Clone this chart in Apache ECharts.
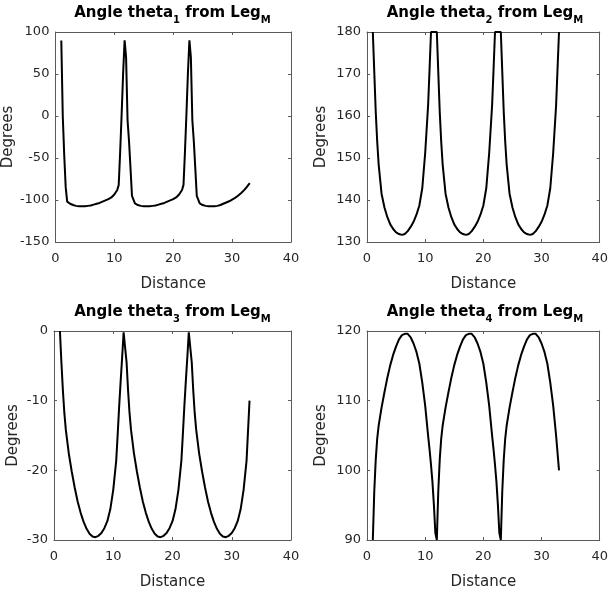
<!DOCTYPE html>
<html>
<head>
<meta charset="utf-8">
<script src="https://cdn.jsdelivr.net/npm/echarts@6.0.0/dist/echarts.min.js"></script>
<style>
html, body { margin: 0; padding: 0; background: #fff; }
#main { width: 611px; height: 597px; }
</style>
</head>
<body>
<div id="main"></div>
<script>
// distance samples (shared by all four panels), one line per stride
const distance = [
    1, 1.25, 1.5, 1.75, 2, 2.5, 3, 3.5, 4, 4.5, 5, 5.5, 6, 6.5, 7, 7.5, 8, 8.5, 9, 9.5, 10, 10.5, 10.75, 11, 11.25, 11.5, 11.75,
    12, 12.25, 12.5, 12.75, 13, 13.5, 14, 14.5, 15, 15.5, 16, 16.5, 17, 17.5, 18, 18.5, 19, 19.5, 20, 20.5, 21, 21.5, 21.75, 22, 22.25, 22.5, 22.75,
    23, 23.25, 23.5, 23.75, 24, 24.5, 25, 25.5, 26, 26.5, 27, 27.5, 28, 28.5, 29, 29.5, 30, 30.5, 31, 31.5, 32, 32.5, 33
];
const theta1 = [
    90, 0, -47, -85, -102, -104.5, -106, -107, -107.5, -107.5, -107.5, -107, -106.5, -105.5, -104.5, -103.5, -102, -100.5, -99, -97, -93.5, -88, -82, -42, 3, 51, 90,
    70, -5, -30, -62, -95, -104, -106, -107, -107.5, -107.5, -107.5, -107, -106.5, -105.5, -104.5, -103.5, -102, -100.5, -99, -97, -93.5, -88, -82, -42, 3, 51, 90,
    70, -5, -30, -62, -95, -104, -106, -107, -107.5, -107.5, -107.5, -107, -106, -104.5, -103, -101.5, -99.5, -97.5, -95, -92, -88.5, -84.5, -80
];
const theta2 = [
    180, 170.5, 161, 154, 148.5, 141.5, 138.2, 135.9, 134.2, 133.1, 132.3, 131.9, 131.7, 131.9, 132.6, 133.6, 134.8, 136.5, 138.7, 142.8, 151.2, 162.5, 171, 180, 180, 180, 180,
    180, 170.5, 161, 154, 148.5, 141.5, 138.2, 135.9, 134.2, 133.1, 132.3, 131.9, 131.7, 131.9, 132.6, 133.6, 134.8, 136.5, 138.7, 142.8, 151.2, 162.5, 171, 180, 180, 180, 180,
    180, 170.5, 161, 154, 148.5, 141.5, 138.2, 135.9, 134.2, 133.1, 132.3, 131.9, 131.7, 131.9, 132.6, 133.6, 134.8, 136.5, 138.7, 142.8, 151.2, 162.5, 180
];
const theta3 = [
    0, -4.5, -8.5, -11.8, -14.2, -17.6, -20.2, -22.5, -24.5, -26.1, -27.4, -28.4, -29.1, -29.5, -29.6, -29.4, -29, -28.3, -27.3, -25.6, -22.8, -18.6, -14.8, -10.8, -7.2, -3.8, -0.2,
    -0.4, -4.5, -8.5, -11.8, -14.2, -17.6, -20.2, -22.5, -24.5, -26.1, -27.4, -28.4, -29.1, -29.5, -29.6, -29.4, -29, -28.3, -27.3, -25.6, -22.8, -18.6, -14.8, -10.8, -7.2, -3.8, -0.2,
    -0.4, -4.5, -8.5, -11.8, -14.2, -17.6, -20.2, -22.5, -24.5, -26.1, -27.4, -28.4, -29.1, -29.5, -29.6, -29.4, -29, -28.3, -27.3, -25.6, -22.8, -18.6, -10
];
const theta4 = [
    90, 97, 101.5, 104.5, 106.4, 109, 111.2, 113.3, 115.1, 116.6, 117.8, 118.8, 119.4, 119.6, 119.6, 119.1, 118.2, 117, 115.3, 112.6, 109.3, 105, 103, 100.8, 98.3, 95, 91,
    90, 97, 101.5, 104.5, 106.4, 109, 111.2, 113.3, 115.1, 116.6, 117.8, 118.8, 119.4, 119.6, 119.6, 119.1, 118.2, 117, 115.3, 112.6, 109.3, 105, 103, 100.8, 98.3, 95, 91,
    90, 97, 101.5, 104.5, 106.4, 109, 111.2, 113.3, 115.1, 116.6, 117.8, 118.8, 119.4, 119.6, 119.6, 119.1, 118.2, 117, 115.3, 112.6, 109.3, 105, 100
];

// axis ranges [min, max, interval]
const xRange = [0, 40, 10];
const yRanges = [[-150, 100, 50], [130, 180, 10], [-30, 0, 10], [90, 120, 10]];
const subscripts = ['1', '2', '3', '4'];
const allTheta = [theta1, theta2, theta3, theta4];

const font = 'DejaVu Sans';
const axisColor = '#5a5a5a';
const textColor = '#262626';

// panel boxes in pixels
const boxes = [
    { left: 54, top: 32, width: 237, height: 210, nameGap: 33 },
    { left: 367, top: 32, width: 236, height: 210, nameGap: 38 },
    { left: 54, top: 331, width: 237, height: 209, nameGap: 33 },
    { left: 367, top: 331, width: 236, height: 209, nameGap: 38 }
];

function axisBase(show) {
    return {
        axisLine: { show: true, onZero: false, lineStyle: { color: axisColor, width: 1 } },
        axisTick: { show: true, inside: true, length: 3, lineStyle: { color: axisColor } },
        axisLabel: { show: show, fontFamily: font, fontSize: 13, color: textColor },
        splitLine: { show: false }
    };
}

let grid = [], xAxis = [], yAxis = [], series = [], title = [];

boxes.forEach(function (b, i) {
    grid.push({ left: b.left, top: b.top, width: b.width, height: b.height });

    let yr = yRanges[i];
    // bottom + top x axes (top one only draws the box edge and ticks)
    let xb = Object.assign(axisBase(true), {
        type: 'value', gridIndex: i, position: 'bottom',
        min: xRange[0], max: xRange[1], interval: xRange[2],
        name: 'Distance', nameLocation: 'middle', nameGap: 35,
        nameTextStyle: { fontFamily: font, fontSize: 15, color: textColor }
    });
    xb.axisLabel.margin = 10;
    let xt = Object.assign(axisBase(false), {
        type: 'value', gridIndex: i, position: 'top',
        min: xRange[0], max: xRange[1], interval: xRange[2]
    });
    xAxis.push(xb, xt);

    let yl = Object.assign(axisBase(true), {
        type: 'value', gridIndex: i, position: 'left',
        min: yr[0], max: yr[1], interval: yr[2],
        name: 'Degrees', nameLocation: 'middle', nameGap: b.nameGap,
        nameTextStyle: { fontFamily: font, fontSize: 15, color: textColor }
    });
    yl.axisLabel.margin = 6;
    let yrt = Object.assign(axisBase(false), {
        type: 'value', gridIndex: i, position: 'right',
        min: yr[0], max: yr[1], interval: yr[2]
    });
    yAxis.push(yl, yrt);

    title.push({
        text: 'Angle theta{s|' + subscripts[i] + '} from Leg{s|M}',
        left: b.left + b.width / 2,
        top: b.top - 31,
        textAlign: 'center',
        padding: 0,
        textStyle: {
            fontFamily: font, fontSize: 15, fontWeight: 'bold', color: '#000', lineHeight: 24,
            rich: {
                s: { fontFamily: font, fontSize: 10, fontWeight: 'bold', color: '#000', verticalAlign: 'bottom', lineHeight: 12 }
            }
        }
    });

    let vals = allTheta[i];
    series.push({
        type: 'line',
        xAxisIndex: 2 * i,
        yAxisIndex: 2 * i,
        data: distance.map(function (d, k) { return [d, vals[k]]; }),
        showSymbol: false,
        symbol: 'none',
        clip: false,
        lineStyle: { color: '#000', width: 2 }
    });
});

let myChart = echarts.init(document.getElementById('main'));
let option = {
    animation: false,
    backgroundColor: '#fff',
    title: title,
    grid: grid,
    xAxis: xAxis,
    yAxis: yAxis,
    series: series
};
myChart.setOption(option);
</script>
</body>
</html>
